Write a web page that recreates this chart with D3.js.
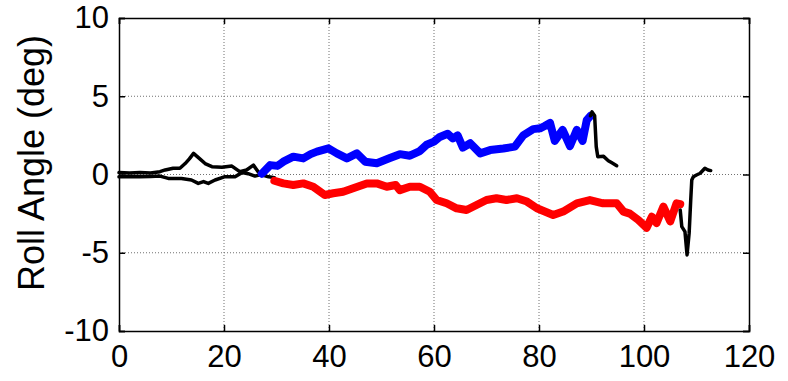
<!DOCTYPE html>
<html>
<head>
<meta charset="utf-8">
<script src="https://cdn.jsdelivr.net/npm/d3@7"></script>
<style>
  html, body { margin: 0; padding: 0; background: #fff; }
  svg { display: block; }
  text { font-family: "Liberation Sans", Arial, sans-serif; fill: #000; }
</style>
</head>
<body>
<svg id="chart" width="788" height="381"></svg>
<script>
// ---- data ----
const xTicks = [0, 20, 40, 60, 80, 100, 120];
const yTicks = [-10, -5, 0, 5, 10];
const yLabel = "Roll Angle (deg)";

// run 1 (upper): black lead-in, blue section, black tail
const run1PreX  = [0, 2, 4, 6, 7.8, 8.8, 10.3, 11.6, 12.6, 13.4, 14.2, 15.4, 16.4, 17.7, 19.6, 21.5, 23, 24.3, 25.6, 26.5, 27.2];
const run1PreY  = [0.12, 0.1, 0.12, 0.1, 0.18, 0.29, 0.4, 0.4, 0.7, 1.0, 1.35, 1.0, 0.7, 0.5, 0.46, 0.54, 0.18, 0.29, 0.6, 0.18, 0.0];
const run1X     = [27.2, 28.8, 30.2, 31.3, 33.2, 35.1, 36.5, 37.7, 39.9, 41.5, 43.4, 45.3, 46.9, 49.1, 51.6, 53.5, 55.4, 57.3, 58.6, 60.0, 61.1, 62.6, 63.6, 64.5, 65.5, 66.9, 68.8, 70.7, 73.2, 75.4, 77.0, 78.9, 80.2, 81.1, 82.1, 83.0, 84.5, 85.9, 87.2, 88.3, 89.1, 89.8];
const run1Y     = [0.05, 0.6, 0.55, 0.82, 1.14, 1.03, 1.3, 1.46, 1.67, 1.35, 1.03, 1.35, 0.82, 0.72, 1.05, 1.3, 1.2, 1.5, 1.9, 2.1, 2.4, 2.6, 2.3, 2.5, 1.72, 2.0, 1.35, 1.56, 1.66, 1.78, 2.5, 2.9, 2.95, 3.1, 3.3, 2.15, 2.85, 1.82, 2.85, 2.15, 3.48, 3.75];
const run1PostX = [89.8, 90.1, 90.6, 90.9, 91.2, 92.3, 93.2, 93.8, 94.8];
const run1PostY = [3.75, 4.0, 3.75, 1.78, 1.14, 1.16, 0.88, 0.76, 0.56];

// run 2 (lower): black lead-in, red section, black tail
const run2PreX  = [0, 2, 4, 6, 7.8, 9.4, 11.9, 13.8, 15.1, 16.1, 17, 18.3, 20.2, 22.1, 23.4, 24.6, 25.9, 27, 28.5, 29.6];
const run2PreY  = [-0.15, -0.13, -0.15, -0.13, -0.1, -0.25, -0.25, -0.35, -0.57, -0.45, -0.57, -0.35, -0.14, -0.14, 0.12, 0.05, -0.1, 0.0, -0.15, -0.2];
const run2X     = [29.6, 31.3, 33.2, 35.1, 37, 39.2, 40.8, 42.7, 44.6, 47.2, 49.1, 51, 52.7, 53.5, 55.4, 57.3, 59.2, 60.5, 62.4, 64.3, 66.2, 68.1, 70, 71.9, 73.8, 75.8, 77.7, 79.6, 82.7, 84.6, 87.2, 89.7, 92.2, 94.8, 96.1, 97.3, 98.9, 100.5, 101.5, 102.4, 103.7, 105, 106.2, 106.9];
const run2Y     = [-0.4, -0.57, -0.67, -0.57, -0.78, -1.31, -1.2, -1.1, -0.88, -0.57, -0.57, -0.78, -0.67, -1.0, -0.78, -0.78, -1.1, -1.63, -1.84, -2.16, -2.27, -1.95, -1.63, -1.52, -1.63, -1.52, -1.73, -2.16, -2.59, -2.37, -1.84, -1.63, -1.84, -1.84, -2.37, -2.5, -2.9, -3.4, -2.7, -3.1, -2.05, -3.0, -1.84, -1.9];
const run2PostX = [106.9, 107.2, 107.8, 108.2, 108.6, 108.9, 109.1, 109.4, 110, 110.7, 111.6, 112.2, 112.7];
const run2PostY = [-2.27, -3.33, -3.65, -5.14, -3.75, -1.63, -0.35, -0.14, -0.03, 0.08, 0.4, 0.29, 0.25];

// ---- layout ----
const svg = d3.select("#chart");
const W = 788, H = 381;
svg.append("rect").attr("width", W).attr("height", H).attr("fill", "#fff");
const m = { left: 119, top: 18, right: 39, bottom: 50 };
const pw = W - m.left - m.right;   // 630
const ph = H - m.top - m.bottom;   // 313

const x = d3.scaleLinear().domain([0, 120]).range([m.left, m.left + pw]);
const y = d3.scaleLinear().domain([-10, 10]).range([m.top + ph, m.top]);

// grid
const g = svg.append("g");
g.selectAll(".gx").data(xTicks.filter(t => t > 0 && t < 120)).join("line")
  .attr("x1", d => x(d)).attr("x2", d => x(d))
  .attr("y1", y(-10)).attr("y2", y(10))
  .attr("stroke", "#707070").attr("stroke-width", 1).attr("stroke-dasharray", "1,2");
g.selectAll(".gy").data(yTicks.filter(t => t > -10 && t < 10)).join("line")
  .attr("y1", d => y(d)).attr("y2", d => y(d))
  .attr("x1", x(0)).attr("x2", x(120))
  .attr("stroke", "#707070").attr("stroke-width", 1).attr("stroke-dasharray", "1,2");

// lines
const line = d3.line().x(d => x(d[0])).y(d => y(d[1]));
const zip = (xs, ys) => xs.map((v, i) => [v, ys[i]]);
function draw(xs, ys, color, w) {
  svg.append("path").datum(zip(xs, ys))
    .attr("d", line).attr("fill", "none")
    .attr("stroke", color).attr("stroke-width", w)
    .attr("stroke-linejoin", "round").attr("stroke-linecap", "round");
}
draw(run1PreX, run1PreY, "#000", 3.5);
draw(run2PreX, run2PreY, "#000", 3.5);
draw(run1X, run1Y, "#0000ff", 8);
draw(run2X, run2Y, "#ff0000", 8);
draw(run1PostX, run1PostY, "#000", 3.5);
draw(run2PostX, run2PostY, "#000", 3.5);

// axes (box with inward ticks)
const fmt = d => String(d);  // plain hyphen-minus as in the reference
const ax = svg.append("g");
const tl = 6;
const xb = d3.axisBottom(x).tickValues(xTicks).tickSize(-tl).tickPadding(14).tickFormat(fmt);
const xt = d3.axisTop(x).tickValues(xTicks).tickSize(-tl).tickFormat("");
const yl = d3.axisLeft(y).tickValues(yTicks).tickSize(-tl).tickPadding(10).tickFormat(fmt);
const yr = d3.axisRight(y).tickValues(yTicks).tickSize(-tl).tickFormat("");
const gb = ax.append("g").attr("transform", `translate(0,${y(-10)})`).call(xb);
const gt = ax.append("g").attr("transform", `translate(0,${y(10)})`).call(xt);
const gl = ax.append("g").attr("transform", `translate(${x(0)},0)`).call(yl);
const gr = ax.append("g").attr("transform", `translate(${x(120)},0)`).call(yr);
ax.selectAll(".domain").attr("stroke", "#000").attr("stroke-width", 1.5);
ax.selectAll(".tick line").attr("stroke", "#000").attr("stroke-width", 1.5);
ax.selectAll(".tick text").style("font-family", "'Liberation Sans', Arial, sans-serif").style("font-size", "31px").attr("fill", "#000");
gb.selectAll(".tick text").attr("dy", "0.71em");

// y label
svg.append("text")
  .attr("transform", `translate(44,163) rotate(-90)`)
  .attr("text-anchor", "middle")
  .style("font-size", "36px")
  .text(yLabel);
</script>
</body>
</html>
